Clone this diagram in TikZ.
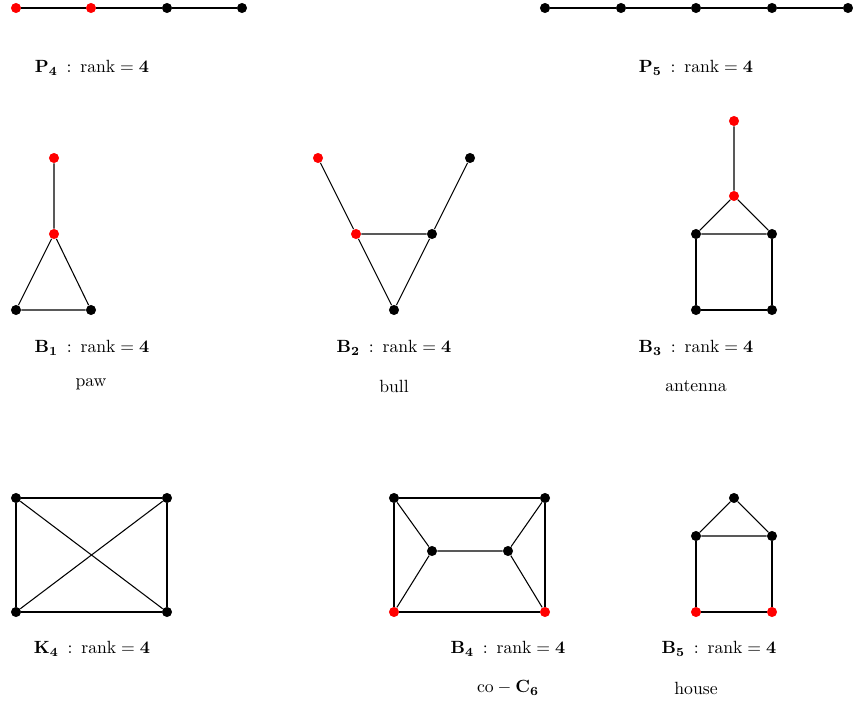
\documentclass[tikz,border=0pt]{standalone}
\usepackage{amsmath}
\newcommand{\rk}[1]{$#1$\enspace:\enspace$\text{rank} = \mathbf{4}$}
\begin{document}
\begin{tikzpicture}[x=0.01988cm,y=-0.01988cm,
  vb/.style={circle,fill=black,inner sep=0pt,minimum size=0.2cm},
  vr/.style={circle,fill=red,inner sep=0pt,minimum size=0.2cm},
  edge/.style={line width=0.6pt},
  lab/.style={inner sep=0pt,anchor=center}]
\useasboundingbox (0,0) rectangle (853,705);
% P4
\node[vr] (p1) at (16,8) {};
\node[vr] (p2) at (91,8) {};
\node[vb] (p3) at (167,8) {};
\node[vb] (p4) at (242,8) {};
\draw[edge] (p1)--(p2)--(p3)--(p4);
\node[lab] (lp4) at (92,68) {\rk{\mathbf{P_4}}};
% P5
\node[vb] (q1) at (545,8) {};
\node[vb] (q2) at (621,8) {};
\node[vb] (q3) at (696,8) {};
\node[vb] (q4) at (772,8) {};
\node[vb] (q5) at (848,8) {};
\draw[edge] (q1)--(q2)--(q3)--(q4)--(q5);
\node[lab] (lp5) at (696,68) {\rk{\mathbf{P_5}}};
% B1 paw
\node[vr] (a1) at (54,158) {};
\node[vr] (a2) at (54,234) {};
\node[vb] (a3) at (16,310) {};
\node[vb] (a4) at (91,310) {};
\draw[edge] (a1)--(a2)--(a3)--(a4)--(a2);
\node[lab] (lb1) at (92,348) {\rk{\mathbf{B_1}}};
\node[lab] (nb1) at (91,384) {paw};
% B2 bull
\node[vr] (b1) at (318,158) {};
\node[vb] (b2) at (470,158) {};
\node[vr] (b3) at (356,234) {};
\node[vb] (b4) at (432,234) {};
\node[vb] (b5) at (394,310) {};
\draw[edge] (b1)--(b3)--(b4)--(b2);
\draw[edge] (b3)--(b5)--(b4);
\node[lab] (lb2) at (394,348) {\rk{\mathbf{B_2}}};
\node[lab] (nb2) at (394,386) {bull};
% B3 antenna
\node[vr] (c1) at (734,121) {};
\node[vr] (c2) at (734,196) {};
\node[vb] (c3) at (696,234) {};
\node[vb] (c4) at (772,234) {};
\node[vb] (c5) at (696,310) {};
\node[vb] (c6) at (772,310) {};
\draw[edge] (c1)--(c2)--(c3)--(c4)--(c2);
\draw[edge] (c3)--(c5)--(c6)--(c4);
\node[lab] (lb3) at (696,348) {\rk{\mathbf{B_3}}};
\node[lab] (nb3) at (696,386) {antenna};
% K4
\node[vb] (k1) at (16,498) {};
\node[vb] (k2) at (167,498) {};
\node[vb] (k3) at (16,612) {};
\node[vb] (k4) at (167,612) {};
\draw[edge] (k1)--(k2)--(k4)--(k3)--(k1);
\draw[edge] (k1)--(k4);
\draw[edge] (k2)--(k3);
\node[lab] (lk4) at (92,649) {\rk{\mathbf{K_4}}};
% B4 co-C6
\node[vb] (d1) at (394,498) {};
\node[vb] (d2) at (545,498) {};
\node[vb] (d3) at (432,551) {};
\node[vb] (d4) at (508,551) {};
\node[vr] (d5) at (394,612) {};
\node[vr] (d6) at (545,612) {};
\draw[edge] (d1)--(d2)--(d6)--(d5)--(d1);
\draw[edge] (d1)--(d3)--(d4)--(d2);
\draw[edge] (d3)--(d5);
\draw[edge] (d4)--(d6);
\node[lab] (lb4) at (508,649) {\rk{\mathbf{B_4}}};
\node[lab] (nb4) at (508,688) {$\mathrm{co}-\mathbf{C_6}$};
% B5 house
\node[vb] (e1) at (734,498) {};
\node[vb] (e2) at (696,536) {};
\node[vb] (e3) at (772,536) {};
\node[vr] (e4) at (696,612) {};
\node[vr] (e5) at (772,612) {};
\draw[edge] (e1)--(e2)--(e3)--(e1);
\draw[edge] (e2)--(e4)--(e5)--(e3);
\node[lab] (lb5) at (719,649) {\rk{\mathbf{B_5}}};
\node[lab] (nb5) at (696,688) {house};
\end{tikzpicture}
\end{document}
